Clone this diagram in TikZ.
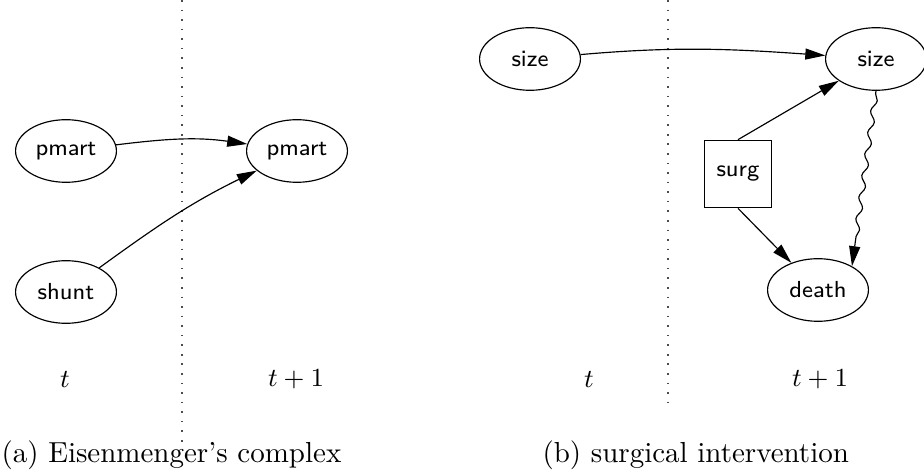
\documentclass[tikz,border=0pt]{standalone}
\usetikzlibrary{arrows.meta,shapes.geometric,decorations.pathmorphing}
\begin{document}
\begin{tikzpicture}[x=0.345pt,y=0.345pt,
  var/.style={draw,ellipse,minimum width=34.8pt,minimum height=21.6pt,inner sep=0pt,font=\sffamily\footnotesize},
  act/.style={draw,rectangle,minimum width=23.3pt,minimum height=23.3pt,inner sep=0pt,font=\sffamily\footnotesize},
  edge/.style={-{Triangle[length=6.9pt,width=3.8pt]},line width=0.4pt},
  slice/.style={line width=0.55pt,dash pattern=on 0.55pt off 2.75pt,black!70},
  tlabel/.style={font=\small},
  caption/.style={anchor=base west,inner sep=0pt}]
\useasboundingbox (0,0) rectangle (924,474);

% time-slice separators
\coordinate (sepAtop) at (182,474);
\coordinate (sepAbot) at (182,27);
\coordinate (sepBtop) at (668,474);
\coordinate (sepBbot) at (668,71);
\draw[slice] (sepAtop) -- (sepAbot);
\draw[slice] (sepBtop) -- (sepBbot);

% (a) Eisenmenger's complex
\node[var] (pmartA) at (66,323) {pmart};
\node[var] (pmartB) at (297,323) {pmart};
\node[var] (shunt)  at (66,182) {shunt};
\draw[edge] (pmartA) to[out=7,in=172] (pmartB);
\draw[edge] (shunt) to[out=36,in=206] (pmartB);
\node[tlabel] (tA)  at (65,95)  {$t$};
\node[tlabel] (t1A) at (296,95) {$t+1$};
\node[caption] (capA) at (1,12) {(a) Eisenmenger's complex};

% (b) surgical intervention
\node[var] (sizeA) at (530,415) {size};
\node[var] (sizeB) at (876,415) {size};
\node[act] (surg)  at (738,300) {surg};
\node[var] (death) at (818,184) {death};
\draw[edge] (sizeA) to[out=5,in=176] (sizeB);
\draw[edge] (surg.north) -- (sizeB);
\draw[edge] (surg.south) -- (death);
\draw[edge,decorate,decoration={snake,amplitude=0.9pt,segment length=7.5pt,pre length=1pt,post length=7.5pt}]
  (sizeB.south) -- (death.35);
\node[tlabel] (tB)  at (589,95) {$t$};
\node[tlabel] (t1B) at (820,95) {$t+1$};
\node[caption] (capB) at (542,12) {(b) surgical intervention};
\end{tikzpicture}
\end{document}
